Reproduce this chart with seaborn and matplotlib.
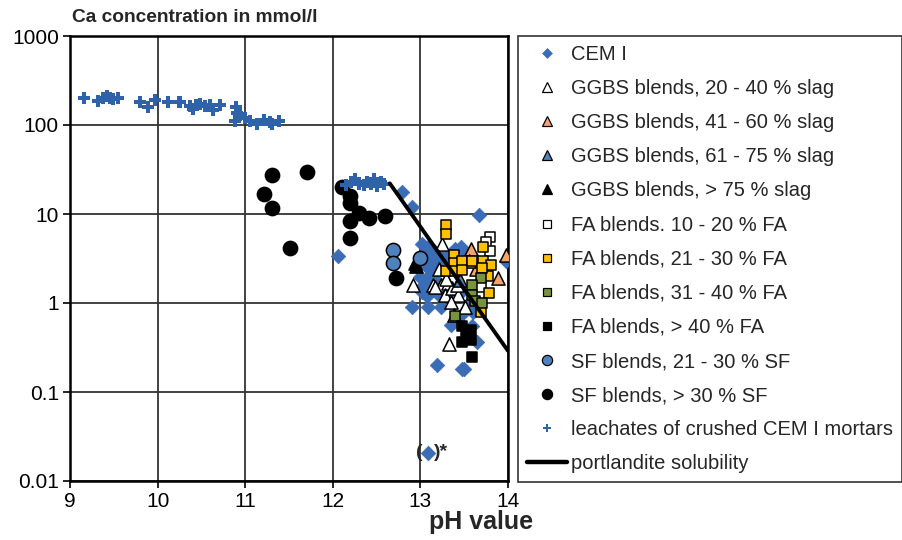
import numpy as np
import pandas as pd
import matplotlib
matplotlib.use("Agg")
import matplotlib.pyplot as plt
import seaborn as sns
from matplotlib.lines import Line2D

# ---------------- data ----------------
cem_ph = [12.06, 12.79, 12.90, 13.67, 13.98,
          13.02, 13.09, 13.14, 13.06, 13.12, 13.18, 13.22, 13.00, 13.05, 13.10, 13.16,
          13.46, 13.40, 13.52, 13.60, 13.30, 13.25, 13.12, 13.26, 13.17,
          12.99, 13.07, 13.02, 13.02, 13.10, 13.14, 13.20, 13.08, 13.04, 13.21,
          12.90, 13.09, 13.24, 13.24, 13.35, 13.45, 13.55, 13.60, 13.48, 13.42,
          13.35, 13.59, 13.65, 13.19, 13.48, 13.50, 13.09]
cem_ca = [3.4, 17.5, 12.0, 9.8, 3.0,
          4.6, 4.3, 3.9, 3.6, 3.2, 3.5, 3.0, 3.0, 2.7, 2.5, 2.8,
          4.3, 4.0, 3.6, 3.3, 3.4, 3.2, 3.7, 3.2, 2.2,
          1.95, 1.9, 1.5, 1.33, 1.6, 1.45, 1.7, 1.2, 1.6, 1.23,
          0.9, 0.9, 0.9, 1.23, 1.1, 1.3, 1.0, 0.8, 0.75, 0.65,
          0.57, 0.55, 0.36, 0.2, 0.18, 0.18, 0.0207]

ggbs1_ph = [13.25, 13.21, 12.91, 13.14, 13.23, 13.32, 13.28, 13.36, 13.43, 13.35, 13.51, 13.38, 13.33, 13.42, 13.29, 13.17]
ggbs1_ca = [4.6, 2.4, 1.58, 1.58, 1.58, 1.66, 1.23, 1.48, 1.23, 1.02, 0.9, 0.73, 0.35, 1.58, 1.88, 1.5]

ggbs2_ph = [13.58, 13.63, 13.89, 13.98, 13.55]
ggbs2_ca = [4.0, 2.4, 1.9, 3.5, 3.0]

ggbs3_ph = [13.45]
ggbs3_ca = [1.8]

ggbs4_ph = [12.94, 12.95]
ggbs4_ca = [2.8, 2.6]

fa1_ph = [13.79, 13.75, 13.80, 13.69]
fa1_ca = [5.5, 4.9, 3.8, 1.5]

fa2_ph = [13.29, 13.29, 13.38, 13.38, 13.29, 13.39, 13.48, 13.48, 13.59, 13.71, 13.71, 13.81, 13.77, 13.78, 13.69, 13.70]
fa2_ca = [7.5, 6.0, 3.5, 2.8, 2.3, 2.3, 3.0, 2.35, 2.95, 3.0, 4.3, 2.7, 2.0, 1.28, 0.79, 2.5]

fa3_ph = [13.69, 13.59, 13.59, 13.62, 13.70, 13.39]
fa3_ca = [1.9, 1.6, 1.24, 1.05, 1.0, 0.72]

fa4_ph = [13.48, 13.58, 13.48, 13.58, 13.59, 13.52]
fa4_ca = [0.55, 0.50, 0.36, 0.38, 0.25, 0.45]

sf1_ph = [12.69, 12.69, 12.99]
sf1_ca = [3.9, 2.8, 3.2]

sf2_ph = [11.31, 11.71, 11.21, 11.31, 11.51, 12.10, 12.20, 12.20, 12.30, 12.20, 12.41, 12.60, 12.20, 12.72]
sf2_ca = [27.4, 29.4, 16.8, 11.7, 4.15, 20.0, 15.8, 13.3, 10.2, 8.3, 9.0, 9.5, 5.4, 1.9]

leach_ph = [9.16, 9.32, 9.38, 9.42, 9.46, 9.49, 9.55, 9.80, 9.89, 9.97, 10.12, 10.25,
            10.37, 10.40, 10.44, 10.48, 10.54, 10.60, 10.63, 10.71,
            10.89, 10.91, 10.88, 10.94, 11.00, 11.05, 11.13, 11.22, 11.28, 11.31, 11.39,
            12.15, 12.21, 12.25, 12.30, 12.36, 12.39, 12.44, 12.47, 12.51, 12.55, 12.59]
leach_ca = [200, 185, 200, 210, 200, 195, 200, 180, 160, 190, 180, 180,
            163, 150, 167, 172, 163, 167, 148, 167,
            160, 135, 111, 128, 120, 111, 103, 115, 108, 103, 111,
            21, 23, 25, 22, 21, 23, 22, 24.5, 20.5, 23, 21.5]

port_ph = [12.65, 12.8, 13.0, 13.2, 13.4, 13.6, 13.8, 14.0]
port_ca = [22.1, 13.7, 7.2, 3.77, 1.99, 1.04, 0.55, 0.29]

x_ticks = [9, 10, 11, 12, 13, 14]
y_ticks = [0.01, 0.1, 1, 10, 100, 1000]
y_ticklabels = ["0.01", "0.1", "1", "10", "100", "1000"]

# ---------------- style ----------------
sns.set_theme(style="white")
plt.rcParams["font.family"] = ["Liberation Sans", "DejaVu Sans"]

W, H = 903, 540
fig = plt.figure(figsize=(W / 100, H / 100), dpi=100)
ax = fig.add_axes([70 / W, 1 - 481 / H, (508 - 70) / W, (481 - 36) / H])

BLUE = "#3A6DB5"
series = [
    ("CEM I", cem_ph, cem_ca, dict(marker="D", s=55, color=BLUE, edgecolor=BLUE, linewidth=0.5)),
    ("GGBS blends, 20 - 40 % slag", ggbs1_ph, ggbs1_ca, dict(marker="^", s=90, color="white", edgecolor="black", linewidth=1.1)),
    ("GGBS blends, 41 - 60 % slag", ggbs2_ph, ggbs2_ca, dict(marker="^", s=90, color="#F5A46C", edgecolor="black", linewidth=1.1)),
    ("GGBS blends, 61 - 75 % slag", ggbs3_ph, ggbs3_ca, dict(marker="^", s=90, color="#4F81BD", edgecolor="black", linewidth=1.1)),
    ("GGBS blends, > 75 % slag", ggbs4_ph, ggbs4_ca, dict(marker="^", s=90, color="black", edgecolor="black", linewidth=1.1)),
    ("FA blends. 10 - 20 % FA", fa1_ph, fa1_ca, dict(marker="s", s=62, color="white", edgecolor="black", linewidth=1.1)),
    ("FA blends, 21 - 30 % FA", fa2_ph, fa2_ca, dict(marker="s", s=62, color="#FFC000", edgecolor="black", linewidth=1.1)),
    ("FA blends, 31 - 40 % FA", fa3_ph, fa3_ca, dict(marker="s", s=62, color="#77933C", edgecolor="black", linewidth=1.1)),
    ("FA blends, > 40 % FA", fa4_ph, fa4_ca, dict(marker="s", s=62, color="black", edgecolor="black", linewidth=1.1)),
    ("SF blends, 21 - 30 % SF", sf1_ph, sf1_ca, dict(marker="o", s=105, color="#4F81BD", edgecolor="black", linewidth=1.1)),
    ("SF blends, > 30 % SF", sf2_ph, sf2_ca, dict(marker="o", s=105, color="black", edgecolor="black", linewidth=1.1)),
    ("leachates of crushed CEM I mortars", leach_ph, leach_ca, dict(marker="P", s=75, color="#2E63AA", edgecolor="none", linewidth=0)),
]

handles = []
for label, xs, ys, kw in series:
    df = pd.DataFrame({"pH": xs, "Ca": ys})
    sns.scatterplot(data=df, x="pH", y="Ca", ax=ax, legend=False, zorder=3, **kw)
    handles.append(Line2D([], [], linestyle="none", marker=kw["marker"],
                          markerfacecolor=kw["color"],
                          markeredgecolor=(kw["edgecolor"] if kw["edgecolor"] != "none" else kw["color"]),
                          markeredgewidth=kw["linewidth"] * 0.8,
                          markersize=np.sqrt(kw["s"]) * 0.72, label=label))

port_df = pd.DataFrame({"pH": port_ph, "Ca": port_ca})
sns.lineplot(data=port_df, x="pH", y="Ca", ax=ax, color="black", linewidth=2.8, zorder=4, legend=False)
handles.append(Line2D([], [], color="black", linewidth=3.2, label="portlandite solubility"))

ax.set_yscale("log")
ax.set_xlim(9, 14)
ax.set_ylim(0.01, 1000)
ax.set_xticks(x_ticks)
ax.set_xticklabels([str(t) for t in x_ticks])
ax.set_yticks(y_ticks)
ax.set_yticklabels(y_ticklabels)
ax.yaxis.set_minor_locator(matplotlib.ticker.NullLocator())
ax.tick_params(axis="both", which="major", labelsize=15, length=5, width=1.2,
               direction="out", colors="black", left=True, bottom=True, pad=3)
ax.grid(True, which="major", color="#333333", linewidth=1.3)
ax.set_axisbelow(True)
for sp in ax.spines.values():
    sp.set_color("black")
    sp.set_linewidth(1.8)

ax.set_xlabel("pH value", fontsize=18, fontweight="bold")
ax.xaxis.label.set_horizontalalignment("right")
ax.xaxis.label.set_verticalalignment("top")
ax.xaxis.set_label_coords((533 - 70) / (508 - 70), (481 - 510) / (481 - 36))
ax.set_ylabel("")
fig.text(72 / W, 1 - 18 / H, "Ca concentration in mmol/l", fontsize=13.8,
         fontweight="bold", ha="left", va="center")

# outlier annotation
ax.text(13.025, 0.0207, "(", fontsize=14, fontweight="bold", ha="right", va="center")
ax.text(13.155, 0.0207, ")*", fontsize=14, fontweight="bold", ha="left", va="center")

leg = fig.legend(handles=handles, loc="upper left",
                 bbox_to_anchor=(518 / W, 1 - 36 / H), bbox_transform=fig.transFigure,
                 fontsize=14.5, frameon=True, fancybox=False, edgecolor="black",
                 handlelength=2.0, handletextpad=0.2, labelspacing=0.75,
                 borderpad=0.45, borderaxespad=0)
leg.get_frame().set_linewidth(1.2)

fig.savefig("out.png", dpi=100)
